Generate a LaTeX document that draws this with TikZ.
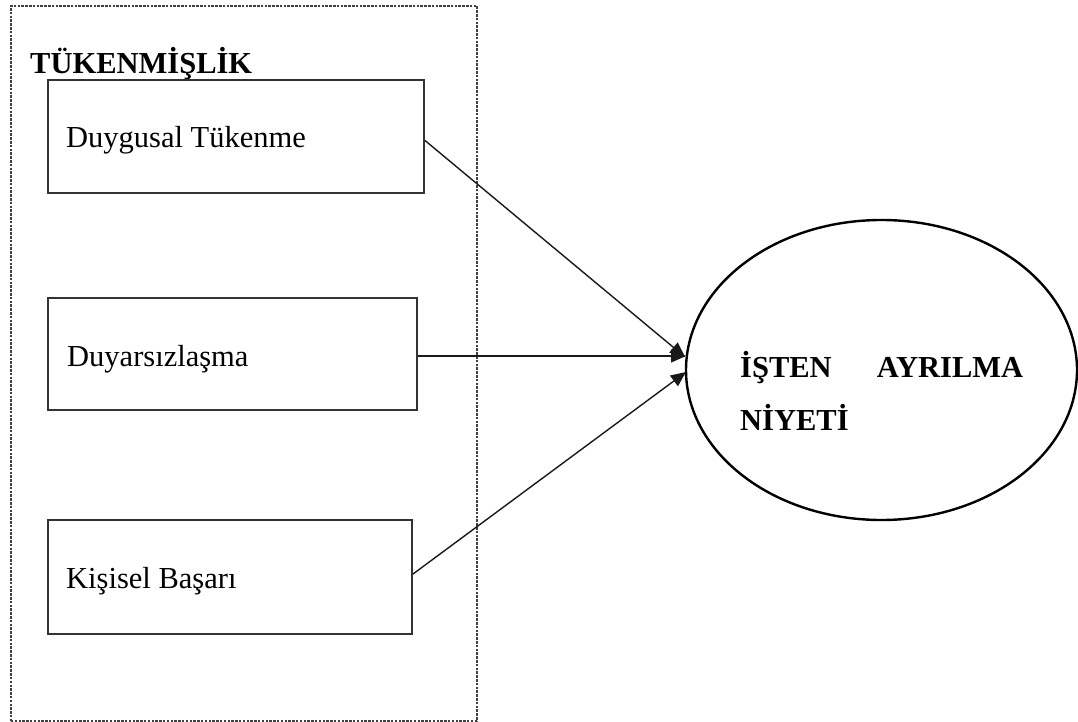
\documentclass[tikz,border=0pt]{standalone}
\usepackage{fontspec}
\setmainfont{Liberation Serif}
\usetikzlibrary{arrows.meta,shapes.geometric}
\tikzset{
  box/.style={draw=black!80, line width=2pt, rectangle, inner sep=0pt},
  outer/.style={draw=black!75, line width=1.8pt, dash pattern=on 2.5pt off 1.3pt},
  lbl/.style={anchor=base west, inner sep=0pt, font=\fontsize{30.5}{36}\selectfont},
  conn/.style={draw=black!90, line width=1.4pt, -{Triangle[length=15pt,width=13pt]}},
  goal/.style={draw, ellipse, line width=2.4pt, inner sep=0pt}
}
\begin{document}
\begin{tikzpicture}[x=1pt,y=-1pt]
\useasboundingbox (0,0) rectangle (1078,722);
% outer dashed frame
\node[outer, minimum width=466pt, minimum height=715pt, anchor=north west] (frame) at (10,5) {};
\node[anchor=base west, inner sep=0pt, font=\fontsize{30.5}{36}\selectfont\bfseries] (title) at (30,74) {TÜKENMİŞLİK};
% boxes
\node[box, minimum width=376pt, minimum height=113pt, anchor=north west] (b1) at (47,79) {};
\node[box, minimum width=369pt, minimum height=112pt, anchor=north west] (b2) at (47,297) {};
\node[box, minimum width=364pt, minimum height=114pt, anchor=north west] (b3) at (47,519) {};
\node[lbl] (t1) at (66,148) {Duygusal Tükenme};
\node[lbl] (t2) at (67,366) {Duyarsızlaşma};
\node[lbl] (t3) at (66,588) {Kişisel Başarı};
% ellipse
\node[goal, minimum width=391pt, minimum height=300pt] (e) at (881.5,370) {};
\node[anchor=base west, inner sep=0pt, text width=283pt, align=left,
      font=\fontsize{30.5}{53}\selectfont\bfseries] (et) at (740,377)
      {İŞTEN\hfill AYRILMA\\NİYETİ};
% arrow tips
\coordinate (p1) at (685,357);
\coordinate (p2) at (686,356);
\coordinate (p3) at (686,372);
\draw[conn] ([yshift=-4pt]b1.east) -- (p1);
\draw[conn] ([yshift=-2pt]b2.east) -- (p2);
\draw[conn] ([yshift=3pt]b3.east) -- (p3);
\end{tikzpicture}
\end{document}
